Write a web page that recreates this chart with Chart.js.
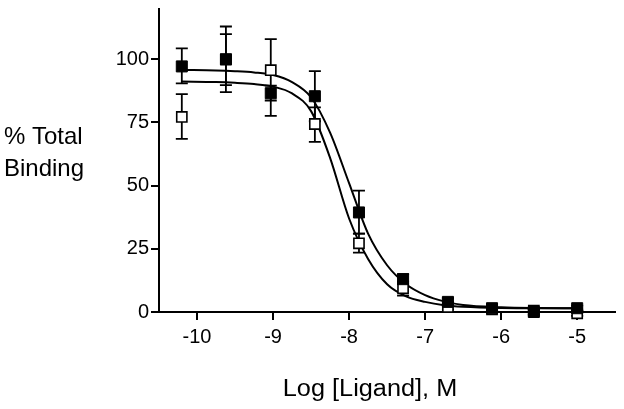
<!DOCTYPE html>
<html>
<head>
<meta charset="utf-8">
<script src="https://cdn.jsdelivr.net/npm/chart.js@4/dist/chart.umd.min.js"></script>
<style>
  html, body { margin: 0; padding: 0; background: #fff; }
  canvas { display: block; }
</style>
</head>
<body>
<canvas id="bindingChart" width="624" height="409"></canvas>
<script>
'use strict';

// measured points (log concentration)
const logConc = [-10.2, -9.62, -9.03, -8.45, -7.87, -7.29, -6.7, -6.12, -5.57, -5.0];

// filled squares
const filledMean = [97.2, 100, 86.6, 85.4, 39.4, 13, 4, 1.5, 0, 1.5];
const filledUpper = [104.3, 113, 89.6, 95.3, 48, 15, 5.5, 2.5, 1, 2.5];
const filledLower = [90.5, 87, 83.7, 75.5, 31, 11, 2.5, 0.5, -1, 0.5];

// open squares
const openMean = [77.2, 100, 95.7, 74.4, 27.2, 9.4, 2, 1, 0.5, -0.5];
const openUpper = [86.2, 110, 108, 81, 31, 12, 3, 1.5, 1, 0.5];
const openLower = [68.5, 89.8, 77.6, 67.3, 23.5, 6.5, 1, 0.5, 0, -1.5];

// fitted curves
const curveX = [-10.2, -9.75, -9.5, -9.25, -9, -8.75, -8.5, -8.25, -8, -7.75, -7.5, -7.25, -7, -6.75, -6.5, -6, -5.5, -5];
const filledFit = [95.8, 95.6, 95.3, 94.8, 93.8, 91, 85, 71, 51, 31, 18.5, 11, 6.7, 4.2, 2.8, 1.9, 1.6, 1.5];
const openFit = [91.2, 91, 90.7, 90.2, 89.2, 86.5, 79.5, 61, 37, 21, 11, 6.2, 4, 2.7, 2.1, 1.6, 1.5, 1.5];

const xTicks = [-10, -9, -8, -7, -6, -5];
const yTicks = [0, 25, 50, 75, 100];

const FONT = '"Liberation Sans", Arial, Helvetica, sans-serif';

function toXY(xs, ys) {
  return xs.map((x, i) => ({ x: x, y: ys[i] }));
}

// error bars drawn under the markers
const errorBars = {
  id: 'errorBars',
  beforeDatasetsDraw(chart) {
    const ctx = chart.ctx;
    const xs = chart.scales.x;
    const ys = chart.scales.y;
    const sets = [[openUpper, openLower], [filledUpper, filledLower]];
    ctx.save();
    ctx.strokeStyle = '#000';
    ctx.lineWidth = 1.8;
    sets.forEach(function (s) {
      logConc.forEach(function (v, i) {
        const px = xs.getPixelForValue(v);
        const top = ys.getPixelForValue(s[0][i]);
        const bot = ys.getPixelForValue(s[1][i]);
        ctx.beginPath();
        ctx.moveTo(px, top);
        ctx.lineTo(px, bot);
        ctx.moveTo(px - 6, top);
        ctx.lineTo(px + 6, top);
        ctx.moveTo(px - 6, bot);
        ctx.lineTo(px + 6, bot);
        ctx.stroke();
      });
    });
    ctx.restore();
  }
};

// axis titles laid out like the original figure
const axisTitles = {
  id: 'axisTitles',
  afterDraw(chart) {
    const ctx = chart.ctx;
    ctx.save();
    ctx.fillStyle = '#000';
    ctx.font = '24px ' + FONT;
    ctx.textAlign = 'left';
    ctx.textBaseline = 'alphabetic';
    ctx.fillText('% Total', 4, 144);
    ctx.fillText('Binding', 4, 176);
    ctx.textAlign = 'center';
    ctx.font = '23px ' + FONT;
    ctx.translate(370, 396);
    ctx.scale(1.1, 1);
    ctx.fillText('Log [Ligand], M', 0, 0);
    ctx.restore();
  }
};

const bindingData = {
  datasets: [
    {
      label: 'filled',
      type: 'scatter',
      data: toXY(logConc, filledMean),
      pointStyle: 'rect',
      pointRadius: 7.8,
      backgroundColor: '#000',
      borderColor: '#000',
      borderWidth: 1,
      clip: false,
    },
    {
      label: 'open',
      type: 'scatter',
      data: toXY(logConc, openMean),
      pointStyle: 'rect',
      pointRadius: 7.2,
      backgroundColor: '#fff',
      borderColor: '#000',
      borderWidth: 1.6,
      clip: false,
    },
    {
      label: 'filled fit',
      type: 'line',
      data: toXY(curveX, filledFit),
      borderColor: '#000',
      borderWidth: 2,
      pointRadius: 0,
      cubicInterpolationMode: 'monotone',
      fill: false,
    },
    {
      label: 'open fit',
      type: 'line',
      data: toXY(curveX, openFit),
      borderColor: '#000',
      borderWidth: 2,
      pointRadius: 0,
      cubicInterpolationMode: 'monotone',
      fill: false,
    },
  ],
};

const bindingConfig = {
  type: 'scatter',
  data: bindingData,
  options: {
    responsive: false,
    animation: false,
    events: [],
    layout: { padding: { top: 7, right: 7, left: 0, bottom: 0 } },
    plugins: {
      legend: { display: false },
      tooltip: { enabled: false },
    },
    scales: {
      x: {
        type: 'linear',
        min: -10.5,
        max: -4.5,
        afterBuildTicks(scale) {
          scale.ticks = xTicks.map(v => ({ value: v }));
        },
        afterFit(scale) {
          scale.height = 97;
          scale.paddingLeft = 0;
          scale.paddingRight = 0;
        },
        grid: { drawOnChartArea: false, drawTicks: true, tickLength: 8, color: '#000', lineWidth: 2 },
        border: { display: true, color: '#000', width: 2 },
        ticks: {
          color: '#000',
          padding: 5,
          font: { family: FONT, size: 20 },
          callback: v => String(v),
        },
      },
      y: {
        type: 'linear',
        min: 0,
        max: 120,
        afterBuildTicks(scale) {
          scale.ticks = yTicks.map(v => ({ value: v }));
        },
        afterFit(scale) {
          scale.width = 159;
          scale.paddingTop = 0;
          scale.paddingBottom = 0;
        },
        grid: { drawOnChartArea: false, drawTicks: true, tickLength: 8, color: '#000', lineWidth: 2 },
        border: { display: true, color: '#000', width: 2 },
        ticks: {
          color: '#000',
          padding: 2,
          font: { family: FONT, size: 20 },
          callback: v => String(v),
        },
      },
    },
  },
  plugins: [errorBars, axisTitles],
};

const bindingChart = new Chart(
  document.getElementById('bindingChart'),
  bindingConfig
);
</script>
</body>
</html>
